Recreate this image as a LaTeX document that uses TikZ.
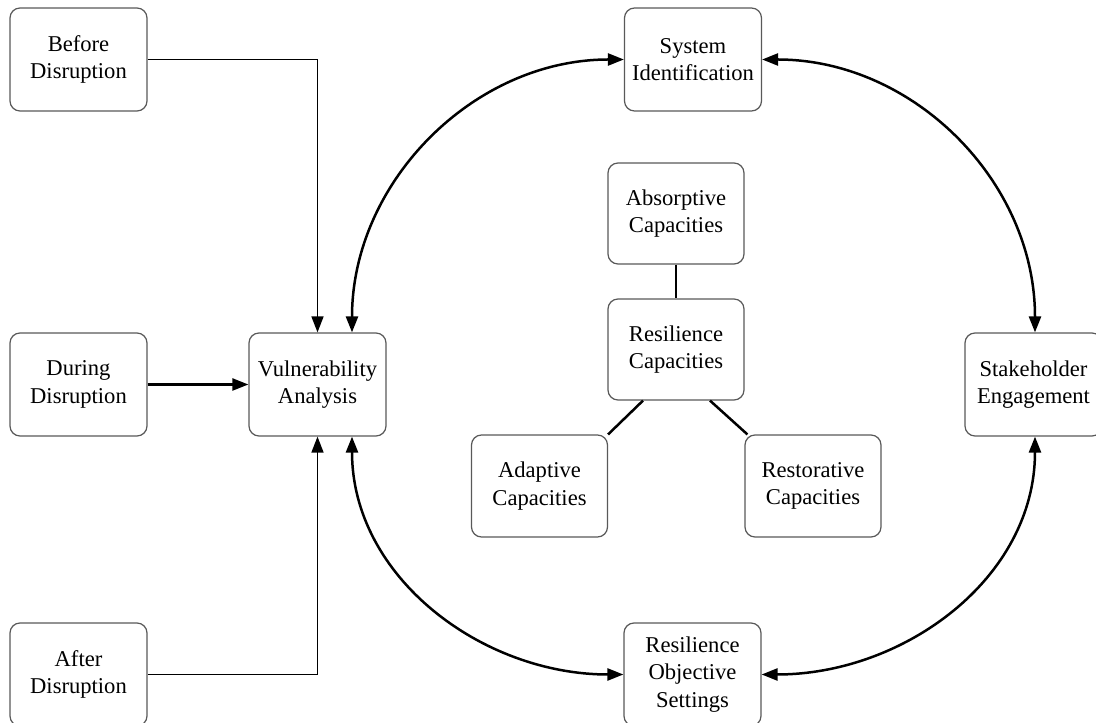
\documentclass[tikz,border=0pt]{standalone}
\usepackage{fontspec}
\setmainfont{Liberation Serif}
\usetikzlibrary{arrows.meta}

\begin{document}
\begin{tikzpicture}[x=1pt,y=1pt,
  box/.style={draw=black!65, line width=1.2pt, rounded corners=10pt, fill=white,
              minimum width=137pt, minimum height=103pt, align=center,
              font=\fontsize{22.6}{27.5}\selectfont, inner sep=2pt},
  tip/.style={Triangle[length=16pt,width=12pt]},
  thinlink/.style={line width=1.6pt, -{Triangle[length=16pt,width=12pt]}},
  link/.style={line width=2.3pt, -{Triangle[length=16pt,width=12pt]}},
  duallink/.style={line width=2.5pt, {Triangle[length=16pt,width=12pt]}-{Triangle[length=16pt,width=12pt]}},
  tie/.style={line width=2.5pt}]
  \clip (0,0) rectangle (1096,723);

  % left column: phases of a disruption
  \node[box] (before) at (78.5,663.5) {Before\\Disruption};
  \node[box] (during) at (78.5,338.5) {During\\Disruption};
  \node[box] (after)  at (78.5,48.5)  {After\\Disruption};
  \node[box] (vuln)   at (317.5,338.5) {Vulnerability\\Analysis};

  % outer cycle
  \node[box] (sysid) at (693,663.5) {System\\Identification};
  \node[box] (stake) at (1033.5,338.5) {Stakeholder\\Engagement};
  \node[box] (objset) at (692.5,48.5) {Resilience\\Objective\\Settings};

  % capacities in the middle
  \node[box, minimum width=136pt, minimum height=101pt] (absorb) at (676,509.5) {Absorptive\\Capacities};
  \node[box, minimum width=136pt, minimum height=101pt] (rescap) at (676,373.5) {Resilience\\Capacities};
  \node[box, minimum width=136pt, minimum height=102pt] (adapt)  at (539.5,237) {Adaptive\\Capacities};
  \node[box, minimum width=136pt, minimum height=102pt] (restore) at (813,237) {Restorative\\Capacities};

  % phases feeding the vulnerability analysis
  \draw[thinlink] (before.east) -| (vuln.north);
  \draw[thinlink] (after.east) -| (vuln.south);
  \draw[link] (during) -- (vuln);

  % cycle of curved two-way arrows
  \draw[duallink] ([xshift=34.5pt]vuln.north) to[out=90,in=180] (sysid.west);
  \draw[duallink] (sysid.east) to[out=0,in=90] ([xshift=1.5pt]stake.north);
  \draw[duallink] ([xshift=1.5pt]stake.south) to[out=-90,in=0] (objset.east);
  \draw[duallink] (objset.west) to[out=180,in=-90] ([xshift=34.5pt]vuln.south);

  % links between capacities
  \draw[tie] (absorb.south) -- (rescap.north);
  \draw[tie] ([xshift=-33pt]rescap.south) -- (adapt.north east);
  \draw[tie] ([xshift=34pt]rescap.south) -- ([xshift=3pt]restore.north west);
\end{tikzpicture}
\end{document}
